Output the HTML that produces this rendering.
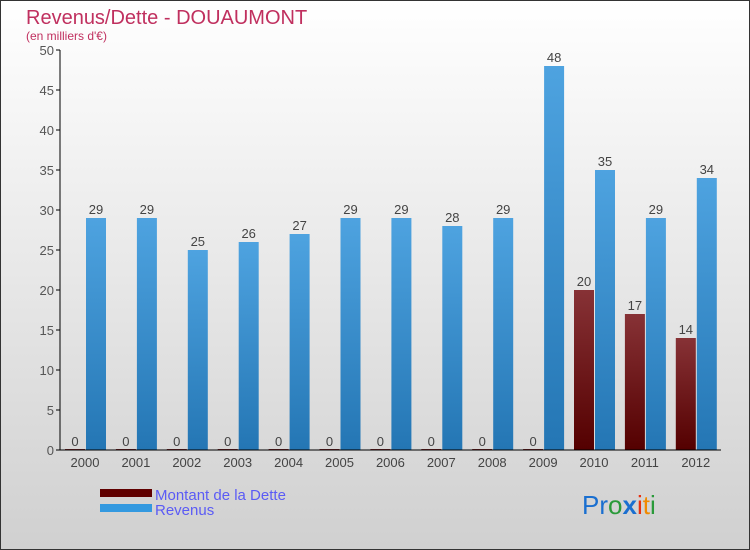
<!DOCTYPE html>
<html><head><meta charset="utf-8"><style>
body{margin:0;width:750px;height:550px;overflow:hidden}
#c{position:relative;width:748px;height:548px;border:1px solid #333;background:linear-gradient(#fff,#d0d0d0)}
svg{position:absolute;left:-1px;top:-1px}
text{font-family:"Liberation Sans",sans-serif}
</style></head><body>
<div id="c">
<svg id="s" width="750" height="550">
<defs>
<linearGradient id="gb" x1="0" y1="0" x2="0" y2="1"><stop offset="0" stop-color="#4ea3e0"/><stop offset="1" stop-color="#2476b4"/></linearGradient>
<linearGradient id="gr" x1="0" y1="0" x2="0" y2="1"><stop offset="0" stop-color="#873236"/><stop offset="1" stop-color="#540000"/></linearGradient>
</defs>
<text x="26" y="24" font-size="20" fill="#c0305f">Revenus/Dette - DOUAUMONT</text>
<text x="26" y="40" font-size="12" fill="#c0305f">(en milliers d'€)</text>
<g id="g"></g>
<rect x="100" y="489" width="52" height="8" fill="#600000"/>
<text x="155" y="500" font-size="15" fill="#5b5bf5">Montant de la Dette</text>
<rect x="100" y="504" width="52" height="8" fill="#3399e0"/>
<text x="155" y="515" font-size="15" fill="#5b5bf5">Revenus</text>
<text x="582" y="514" font-size="26"><tspan fill="#1a6fd0">Pr</tspan><tspan fill="#2a9a3a">o</tspan><tspan fill="#1a6fd0" font-weight="bold">x</tspan><tspan fill="#e83010">i</tspan><tspan fill="#f08a00">t</tspan><tspan fill="#2a9a3a">i</tspan></text>
</svg></div>
<script>
const years=["2000","2001","2002","2003","2004","2005","2006","2007","2008","2009","2010","2011","2012"];
const dette=[0,0,0,0,0,0,0,0,0,0,20,17,14];
const revenus=[29,29,25,26,27,29,29,28,29,48,35,29,34];
const ticks=[0,5,10,15,20,25,30,35,40,45,50];
const NS="http://www.w3.org/2000/svg",g=document.getElementById('g');
const y=v=>450-v*8, cx=i=>85+i*50.9;
function mk(t,a){const e=document.createElementNS(NS,t);for(const k in a)e.setAttribute(k,a[k]);g.appendChild(e);return e;}
ticks.forEach(t=>{
 const l=mk('line',{x1:56,x2:60,y1:y(t),y2:y(t),stroke:'#000'});
 
 
 const tx=mk('text',{x:54,y:y(t)+5,'text-anchor':'end','font-size':13,fill:'#555'});tx.textContent=t;
 
 
});
years.forEach((yr,i)=>{
 const c=cx(i);
 const d=mk('rect',{x:c-20,y:y(dette[i])-(dette[i]?0:1),width:20,height:Math.max(dette[i]*8,1),fill:'url(#gr)'});
 
 
 const r=mk('rect',{x:c+1,y:y(revenus[i]),width:20,height:revenus[i]*8,fill:'url(#gb)'});
 
 
 const t1=mk('text',{x:c-10,y:y(dette[i])-4,'text-anchor':'middle','font-size':13,fill:'#444'});t1.textContent=dette[i];
 
 
 const t2=mk('text',{x:c+11,y:y(revenus[i])-4,'text-anchor':'middle','font-size':13,fill:'#444'});t2.textContent=revenus[i];
 
 
 const xl=mk('text',{x:c,y:467,'text-anchor':'middle','font-size':13,fill:'#444'});xl.textContent=yr;
 
 
});
const ya=mk('line',{x1:60,x2:60,y1:50,y2:450,stroke:'#000'});


const xa=mk('line',{x1:60,x2:721,y1:450,y2:450,stroke:'#000'});


</script>
</body></html>
